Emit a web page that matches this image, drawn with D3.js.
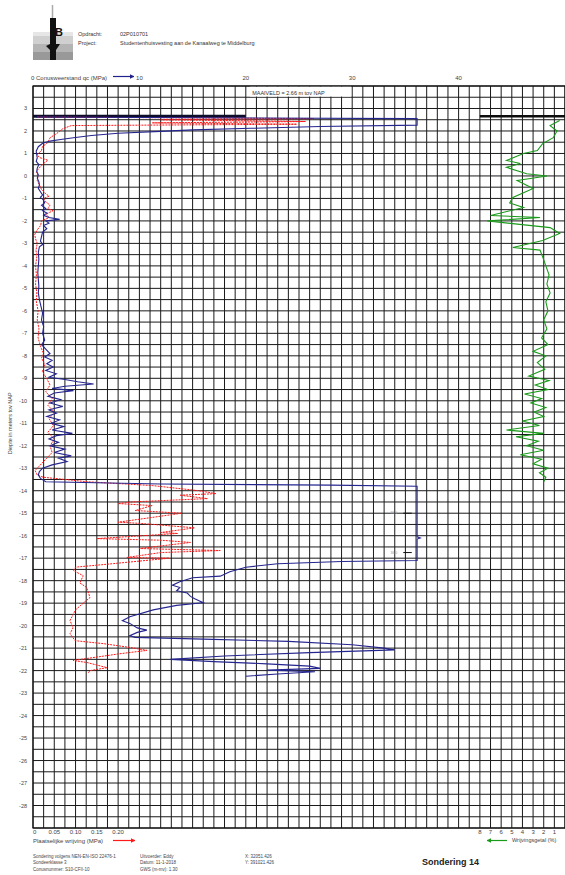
<!DOCTYPE html>
<html>
<head>
<meta charset="utf-8">
<script src="https://cdn.jsdelivr.net/npm/d3@7"></script>
<style>
  body { margin: 0; background: #fff; }
  svg { display: block; font-family: "Liberation Sans", Arial, sans-serif; }
</style>
</head>
<body>
<svg id="chart"></svg>
<script>
const width = 565, height = 875;

// conusweerstand qc (MPa) per diepte (m NAP)
const qcPoints = [
  [2.62,0.3],[2.55,36.1],[2.26,36.1],[2.2,27],[2.12,20.5],[2.05,15],[1.98,12],[1.9,8],[1.8,5.5],[1.7,3.8],
  [1.62,2.6],[1.55,1.6],[1.45,0.9],[1.3,0.5],[1.1,0.3],[0.95,0.35],[0.8,0.4],[0.65,0.3],[0.5,0.55],[0.35,0.4],
  [0.2,0.35],[0.05,0.5],[-0.1,0.4],[-0.25,0.55],[-0.4,0.6],[-0.55,0.5],[-0.7,0.7],[-0.85,0.9],[-0.95,0.7],
  [-1.05,0.95],[-1.2,1.1],[-1.3,0.8],[-1.45,1.2],[-1.55,0.9],[-1.65,1.3],[-1.75,1.0],[-1.85,1.5],[-1.93,2.5],
  [-2.0,1.2],[-2.1,1.5],[-2.2,1.0],[-2.35,1.3],[-2.5,0.9],[-2.7,0.8],[-2.9,0.7],[-3.05,0.9],[-3.15,0.6],
  [-3.4,0.5],[-3.7,0.55],[-4.0,0.5],[-4.3,0.45],[-4.6,0.5],[-4.9,0.55],[-5.2,0.5],[-5.5,0.6],[-5.8,0.75],
  [-6.1,0.9],[-6.4,0.8],[-6.7,1.0],[-7.0,0.9],[-7.3,1.1],[-7.5,0.8],[-7.7,1.2],[-7.9,1.6],[-8.05,1.1],
  [-8.2,1.8],[-8.35,1.3],[-8.5,1.9],[-8.65,1.2],[-8.8,2.2],[-8.95,1.5],[-9.05,3.0],[-9.15,4.2],[-9.25,5.7],
  [-9.35,3.0],[-9.45,1.8],[-9.55,3.8],[-9.65,2.0],[-9.8,1.4],[-9.95,2.6],[-10.1,1.6],[-10.25,2.8],[-10.4,1.5],
  [-10.55,2.2],[-10.7,1.3],[-10.85,2.5],[-11.0,1.7],[-11.15,2.9],[-11.3,1.8],[-11.45,3.7],[-11.55,2.2],
  [-11.7,1.5],[-11.85,2.4],[-12.0,1.6],[-12.15,3.0],[-12.3,2.0],[-12.45,3.6],[-12.55,2.4],[-12.7,3.2],
  [-12.85,1.8],[-13.0,0.9],[-13.15,0.6],[-13.3,0.5],[-13.45,0.7],[-13.6,1.2],[-13.7,12],[-13.75,28],
  [-13.8,36.1],[-16.05,36.1],[-16.1,36.4],[-16.15,36.1],[-17.1,36.1],[-17.15,29],[-17.25,23],[-17.4,20],
  [-17.6,18.5],[-17.8,17.6],[-17.87,15],[-18.05,13.8],[-18.2,13.1],[-18.3,13.8],[-18.45,13.5],[-18.55,14.5],
  [-18.7,14.8],[-18.8,15.2],[-18.98,16],[-19.1,13.5],[-19.3,11.3],[-19.6,9.1],[-19.78,8.4],[-19.9,9.1],
  [-20.1,9.8],[-20.2,10.7],[-20.3,9.8],[-20.45,9.1],[-20.52,9.6],[-20.6,16],[-20.7,24],[-20.85,30],
  [-21.0,33],[-21.08,34],[-21.2,26],[-21.35,18],[-21.5,12.9],[-21.6,17],[-21.7,22],[-21.8,26],[-21.9,27],
  [-21.98,22],[-22.05,26.5],[-22.15,23],[-22.25,20]
];

// plaatselijke wrijving fs (MPa) per diepte
const fsPoints = [
  [2.62,0.01],[2.55,0.66],[2.5,0.3],[2.42,0.64],[2.36,0.28],[2.3,0.62],[2.24,0.09],[2.1,0.07],[1.89,0.056],
  [1.7,0.04],[1.49,0.035],[1.3,0.022],[1.13,0.02],[0.95,0.01],[0.82,0.015],[0.7,0.035],[0.6,0.028],
  [0.46,0.02],[0.3,0.012],[0.15,0.008],[0.0,0.012],[-0.2,0.01],[-0.4,0.015],[-0.6,0.02],[-0.8,0.03],
  [-0.9,0.038],[-1.0,0.025],[-1.15,0.03],[-1.3,0.04],[-1.45,0.035],[-1.55,0.047],[-1.7,0.03],[-1.85,0.038],
  [-2.0,0.02],[-2.2,0.018],[-2.4,0.01],[-2.6,0.004],[-2.8,0.006],[-3.0,0.01],[-3.3,0.007],[-3.6,0.009],
  [-4.0,0.006],[-4.4,0.008],[-4.8,0.006],[-5.2,0.009],[-5.6,0.008],[-6.0,0.012],[-6.4,0.01],[-6.8,0.014],
  [-7.2,0.012],[-7.6,0.018],[-7.9,0.025],[-8.1,0.02],[-8.4,0.028],[-8.7,0.022],[-9.0,0.032],[-9.3,0.04],
  [-9.6,0.03],[-9.9,0.045],[-10.2,0.035],[-10.5,0.05],[-10.8,0.038],[-11.1,0.048],[-11.4,0.035],[-11.7,0.05],
  [-12.0,0.04],[-12.3,0.045],[-12.6,0.03],[-12.9,0.015],[-13.1,0.005],[-13.3,0.01],[-13.4,0.024],
  [-13.6,0.127],[-13.77,0.28],[-14.0,0.39],[-14.13,0.43],[-14.2,0.345],[-14.35,0.41],[-14.5,0.23],
  [-14.57,0.2],[-14.66,0.28],[-14.88,0.24],[-15.0,0.35],[-15.4,0.2],[-15.45,0.25],[-15.65,0.38],
  [-15.86,0.3],[-15.9,0.34],[-16.13,0.15],[-16.2,0.3],[-16.3,0.37],[-16.57,0.25],[-16.66,0.44],
  [-16.75,0.3],[-16.97,0.22],[-17.0,0.32],[-17.24,0.19],[-17.4,0.1],[-17.55,0.095],[-17.78,0.118],
  [-18.1,0.11],[-18.3,0.126],[-18.75,0.134],[-19.0,0.118],[-19.3,0.1],[-19.77,0.087],[-20.1,0.094],
  [-20.36,0.087],[-20.67,0.099],[-20.8,0.165],[-20.97,0.228],[-21.1,0.268],[-21.25,0.204],[-21.55,0.094],
  [-21.64,0.127],[-21.87,0.174],[-22.0,0.134],[-22.1,0.13]
];

// wrijvingsgetal Rf (%) per diepte
const rfPoints = [
  [2.47,0.5],[2.24,1.4],[2.0,0.75],[1.7,1.1],[1.44,2.1],[1.13,2.6],[1.0,3.9],[0.69,5.5],[0.55,4.2],[0.38,5.5],
  [0.1,3.6],[0.0,1.7],[-0.2,4.5],[-0.56,3.0],[-0.96,4.9],[-1.2,5.2],[-1.4,3.9],[-1.76,7.0],[-1.85,2.35],
  [-2.0,7.3],[-2.3,1.4],[-2.56,0.5],[-2.87,2.1],[-3.18,4.9],[-3.3,2.35],[-3.6,2.1],[-4.0,1.8],[-4.4,1.5],
  [-4.8,1.7],[-5.2,1.4],[-5.6,1.8],[-6.0,1.6],[-6.4,2.0],[-6.8,1.7],[-7.2,2.2],[-7.5,1.6],[-7.8,3.0],
  [-8.0,1.8],[-8.3,2.6],[-8.6,1.9],[-8.9,3.4],[-9.1,1.5],[-9.3,2.8],[-9.5,1.6],[-9.7,3.8],[-9.9,2.2],
  [-10.1,3.2],[-10.3,1.8],[-10.5,2.9],[-10.7,2.0],[-10.9,4.0],[-11.1,2.4],[-11.3,5.5],[-11.45,2.0],
  [-11.6,4.6],[-11.8,2.5],[-12.0,3.6],[-12.2,2.0],[-12.4,4.2],[-12.6,2.2],[-12.8,3.0],[-13.0,1.6],
  [-13.2,2.4],[-13.4,1.8],[-13.6,2.0]
];

const depthTicks = d3.range(3, -29, -1);
const qcTicks = [10, 20, 30, 40];
const fsTicks = [0, 0.05, 0.10, 0.15, 0.20];
const rfTicks = [8, 7, 6, 5, 4, 3, 2, 1];
const maaiveld = 2.66;

const svg = d3.select('#chart').attr('width', width).attr('height', height);

const pL = 33, pR = 565, pT = 86, pB = 828;
const y = d3.scaleLinear().domain([4, -29]).range([pT, pB]);
const xQc = d3.scaleLinear().domain([0, 50]).range([pL, pR]);
const xFs = d3.scaleLinear().domain([0, 1.25]).range([pL, pR]);
const xRf = d3.scaleLinear().domain([0, 50]).range([pR, pL]);

// --- header / logo
const logo = svg.append('g');
[['#e6e6e6',32,4],['#d0d0d0',36,8],['#b4b4b4',44,8],['#999',52,8]].forEach(s => {
  logo.append('rect').attr('x', 33).attr('y', s[1]).attr('width', 40).attr('height', s[2]).attr('fill', s[0]);
});
logo.append('line').attr('x1',52.5).attr('x2',52.5).attr('y1',5).attr('y2',30).attr('stroke','#aaa').attr('stroke-width',1.5);
logo.append('path').attr('d','M50,18 L56,18 L56,44 L60,44 L56,50 L56,60 L50,60 L50,50 L46,46 L50,44 Z').attr('fill','#111');
logo.append('text').attr('x',55).attr('y',36).attr('font-size',11).attr('font-weight','bold').attr('fill','#111').text('B');

const hdr = svg.append('g').attr('font-size', 5.5).attr('fill', '#333');
hdr.append('text').attr('x', 78).attr('y', 36).text('Opdracht:');
hdr.append('text').attr('x', 120).attr('y', 36).text('02P010701');
hdr.append('text').attr('x', 78).attr('y', 45).text('Project:');
hdr.append('text').attr('x', 120).attr('y', 45).text('Studentenhuisvesting  aan de Kanaalweg te Middelburg');

// --- grid
const grid = svg.append('g').attr('stroke', '#1a1a1a').attr('stroke-width', 1);
grid.selectAll('.v').data(d3.range(0, 51, 1)).join('line')
  .attr('x1', d => xQc(d)).attr('x2', d => xQc(d)).attr('y1', pT).attr('y2', pB);
grid.selectAll('.h').data(d3.range(4, -29.01, -0.5)).join('line')
  .attr('x1', pL).attr('x2', pR).attr('y1', d => y(d)).attr('y2', d => y(d));
svg.append('rect').attr('x', pL).attr('y', pT).attr('width', pR - pL).attr('height', pB - pT)
  .attr('fill', 'none').attr('stroke', '#111').attr('stroke-width', 1.2);

// maaiveld box
svg.append('rect').attr('x', xQc(20.4)).attr('y', y(4) + 0.8).attr('width', xQc(30) - xQc(20.4) - 1).attr('height', y(3.5) - y(4) - 1.5)
  .attr('fill', '#fff');
svg.append('text').attr('x', xQc(20.6)).attr('y', y(3.6)).attr('font-size', 5.5).attr('fill', '#333')
  .text('MAAIVELD =   ' + maaiveld.toFixed(2) + '    m tov NAP');

// --- axes text
const lab = svg.append('g').attr('font-size', 6).attr('fill', '#444');
lab.append('text').attr('x', pL - 2).attr('y', 80).text('0  Conusweerstand qc (MPa)');
lab.selectAll('.qt').data(qcTicks).join('text')
  .attr('x', d => xQc(d)).attr('y', 80).attr('text-anchor', 'middle').text(d => d);
lab.selectAll('.dt').data(depthTicks).join('text')
  .attr('x', 27).attr('y', d => y(d) + 2).attr('text-anchor', 'end').attr('font-size', 5.5).text(d => d);
lab.append('text').attr('transform', `translate(12,${y(-11)}) rotate(-90)`).attr('text-anchor', 'middle')
  .attr('font-size', 5.5).text('Diepte in meters tov NAP');
lab.selectAll('.ft').data(fsTicks).join('text')
  .attr('x', d => xFs(d)).attr('y', 834).attr('text-anchor', d => d === 0 ? 'start' : 'middle')
  .text(d => d === 0 ? '0' : d.toFixed(2));
lab.append('text').attr('x', pL).attr('y', 843).text('Plaatselijke wrijving (MPa)');
lab.selectAll('.rt').data(rfTicks).join('text')
  .attr('x', d => xRf(d)).attr('y', 834).attr('text-anchor', 'middle').text(d => d);
lab.append('text').attr('x', 512).attr('y', 842).attr('font-size', 5.5).text('Wrijvingsgetal (%)');

// arrows
const defs = svg.append('defs');
[['aN','#22228a'],['aR','#ff1a1a'],['aG','#1a9a1a']].forEach(a => {
  defs.append('marker').attr('id', a[0]).attr('viewBox', '0 0 10 10').attr('refX', 9).attr('refY', 5)
    .attr('markerWidth', 4).attr('markerHeight', 4).attr('orient', 'auto')
    .append('path').attr('d', 'M0,0 L10,5 L0,10 Z').attr('fill', a[1]);
});
svg.append('line').attr('x1', 113).attr('x2', 134).attr('y1', 76.5).attr('y2', 76.5)
  .attr('stroke', '#22228a').attr('stroke-width', 1.2).attr('marker-end', 'url(#aN)');
svg.append('line').attr('x1', 113).attr('x2', 135).attr('y1', 840.5).attr('y2', 840.5)
  .attr('stroke', '#ff1a1a').attr('stroke-width', 1.2).attr('marker-end', 'url(#aR)');
svg.append('line').attr('x1', 507).attr('x2', 487).attr('y1', 840.5).attr('y2', 840.5)
  .attr('stroke', '#1a9a1a').attr('stroke-width', 1.2).attr('marker-end', 'url(#aG)');

// --- maaiveld bars
svg.append('line').attr('x1', xQc(0)).attr('x2', xQc(20)).attr('y1', y(maaiveld)).attr('y2', y(maaiveld))
  .attr('stroke', '#0d0d2a').attr('stroke-width', 3);
svg.append('line').attr('x1', xRf(8)).attr('x2', xRf(0)).attr('y1', y(maaiveld)).attr('y2', y(maaiveld))
  .attr('stroke', '#0d0d0d').attr('stroke-width', 2.5);

// --- curves
const line = xs => d3.line().x(d => xs(d[1])).y(d => y(d[0]));
svg.append('path').datum(rfPoints).attr('d', line(xRf))
  .attr('fill', 'none').attr('stroke', '#1a9a1a').attr('stroke-width', 1.1);
svg.append('path').datum(fsPoints).attr('d', line(xFs))
  .attr('fill', 'none').attr('stroke', '#ff1a1a').attr('stroke-width', 1).attr('stroke-dasharray', '2,1');
svg.append('path').datum(qcPoints).attr('d', line(xQc))
  .attr('fill', 'none').attr('stroke', '#25258f').attr('stroke-width', 1.1);

// small annotations at sand layer
const ann = svg.append('g').attr('font-size', 3.5).attr('fill', '#8899aa');
[[-15.0, '36.0'], [-16.75, '36.0']].forEach(a => {
  ann.append('text').attr('x', xQc(33.6)).attr('y', y(a[0]) + 1.2).text(a[1]);
  svg.append('line').attr('x1', xQc(34.8)).attr('x2', xQc(35.6)).attr('y1', y(a[0])).attr('y2', y(a[0]))
    .attr('stroke', '#111').attr('stroke-width', 1);
});

// --- footer
const ft = svg.append('g').attr('font-size', 4.5).attr('fill', '#444');
[['Sondering volgens NEN-EN-ISO 22476-1', 33, 858], ['Sondeerklasse 3', 33, 864], ['Conusnummer: S10-CFII-10', 33, 871],
 ['Uitvoerder: Eddy', 140, 858], ['Datum:      11-1-2018', 140, 864], ['GWS (m-mv):  1.30', 140, 871],
 ['X: 32051.426', 245, 858], ['Y: 391021.426', 245, 864]].forEach(t => {
  ft.append('text').attr('x', t[1]).attr('y', t[2]).text(t[0]);
});
svg.append('text').attr('x', 422).attr('y', 865).attr('font-size', 9).attr('font-weight', 'bold')
  .attr('fill', '#222').text('Sondering   14');
</script>
</body>
</html>
